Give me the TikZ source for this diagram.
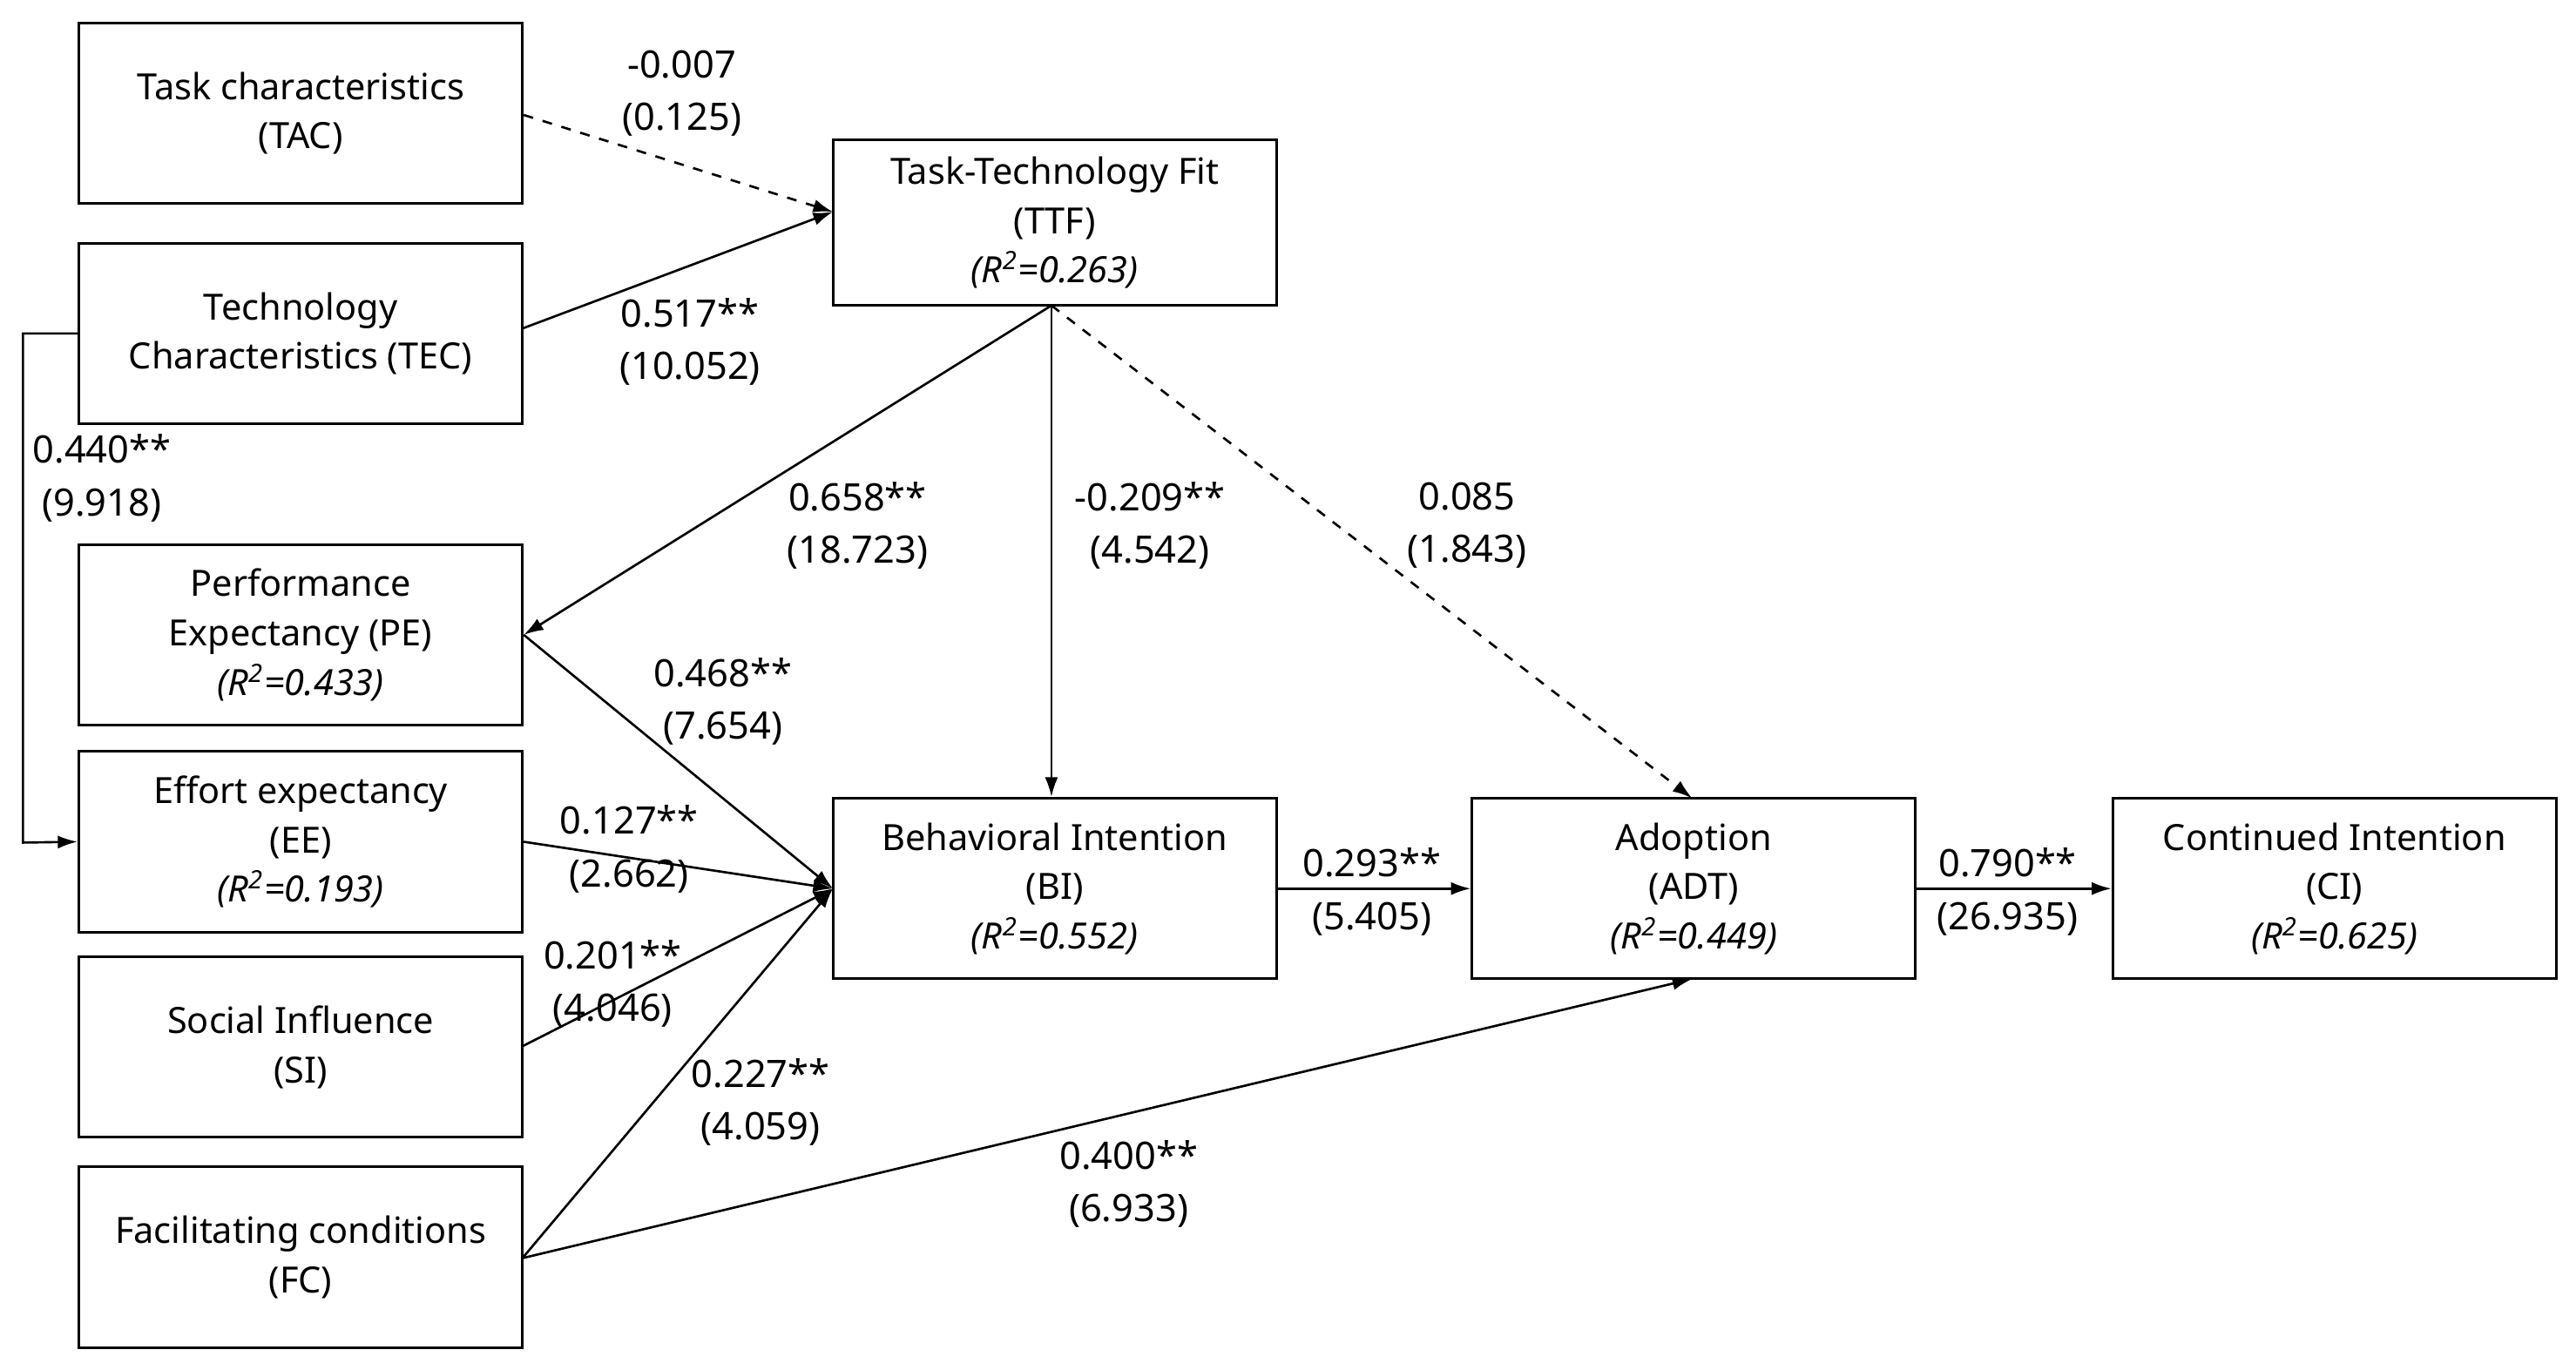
\documentclass[tikz,border=0pt]{standalone}
\usepackage{fontspec}
\setmainfont{Noto Sans}
\usetikzlibrary{arrows.meta}
\begin{document}
\begin{tikzpicture}[x=0.5pt,y=-0.5pt,
  box/.style={draw,line width=0.8pt,minimum width=135pt,minimum height=55pt,align=center,inner sep=2pt,font=\fontsize{11}{15}\selectfont},
  lab/.style={align=center,font=\fontsize{11.5}{16}\selectfont},
  arr/.style={line width=0.7pt,-{Latex[length=6pt,width=4pt]}},
  darr/.style={arr,dashed}]
\useasboundingbox (0,0) rectangle (1568,834);
\node[box] (tac) at (183,69) {Task characteristics\\(TAC)};
\node[box] (tec) at (183,203) {Technology\\Characteristics (TEC)};
\node[box,minimum height=50.5pt] (ttf) at (642,135.5) {Task-Technology Fit\\(TTF)\\\textit{(R\textsuperscript{2}=0.263)}};
\node[box] (pe) at (183,386.5) {Performance\\Expectancy (PE)\\\textit{(R\textsuperscript{2}=0.433)}};
\node[box] (ee) at (183,512.5) {Effort expectancy\\(EE)\\\textit{(R\textsuperscript{2}=0.193)}};
\node[box] (si) at (183,637.5) {Social Influence\\(SI)};
\node[box] (fc) at (183,765.5) {Facilitating conditions\\(FC)};
\node[box] (bi) at (642,541) {Behavioral Intention\\(BI)\\\textit{(R\textsuperscript{2}=0.552)}};
\node[box] (adt) at (1031,541) {Adoption\\(ADT)\\\textit{(R\textsuperscript{2}=0.449)}};
\node[box] (ci) at (1421,541) {Continued Intention\\(CI)\\\textit{(R\textsuperscript{2}=0.625)}};
\coordinate (biin) at (507,541);
\coordinate (ttfin) at (507,129);
\coordinate (ttfo) at (640,186);
\coordinate (adtt) at (1030,486);
\coordinate (adtb) at (1030,596);
\coordinate (feo) at (318,766);
\draw[darr] (tac.east |- 0,70) -- (ttfin);
\draw[arr] (318,200) -- (ttfin);
\draw[arr] (tec.west) -- (14,203) -- (14,513) -- (ee.west);
\draw[arr] (ttfo) -- (pe.east);
\draw[arr] (ttfo) -- (ttfo |- bi.north);
\draw[darr] (ttfo) -- (adtt);
\draw[arr] (pe.east) -- (biin);
\draw[arr] (ee.east) -- (biin);
\draw[arr] (318,637) -- (biin);
\draw[arr] (feo) -- (biin);
\draw[arr] (feo) -- (adtb);
\draw[arr] (bi.east) -- (adt.west);
\draw[arr] (adt.east) -- (ci.west);
\node[lab] at (415,57) {\textbf{-0.007}\\(0.125)};
\node[lab] at (420,208) {\textbf{0.517**}\\(10.052)};
\node[lab] at (62,291) {\textbf{0.440**}\\(9.918)};
\node[lab] at (522,320) {\textbf{0.658**}\\(18.723)};
\node[lab] at (700,320) {\textbf{-0.209**}\\(4.542)};
\node[lab] at (893,320) {\textbf{0.085}\\(1.843)};
\node[lab] at (440,427) {\textbf{0.468**}\\(7.654)};
\node[lab] at (383,517) {\textbf{0.127**}\\(2.662)};
\node[lab] at (373,599) {\textbf{0.201**}\\(4.046)};
\node[lab] at (463,671) {\textbf{0.227**}\\(4.059)};
\node[lab] at (687,721) {\textbf{0.400**}\\(6.933)};
\node[lab] at (835,543) {\textbf{0.293**}\\(5.405)};
\node[lab] at (1222,543) {\textbf{0.790**}\\(26.935)};
\end{tikzpicture}
\end{document}
